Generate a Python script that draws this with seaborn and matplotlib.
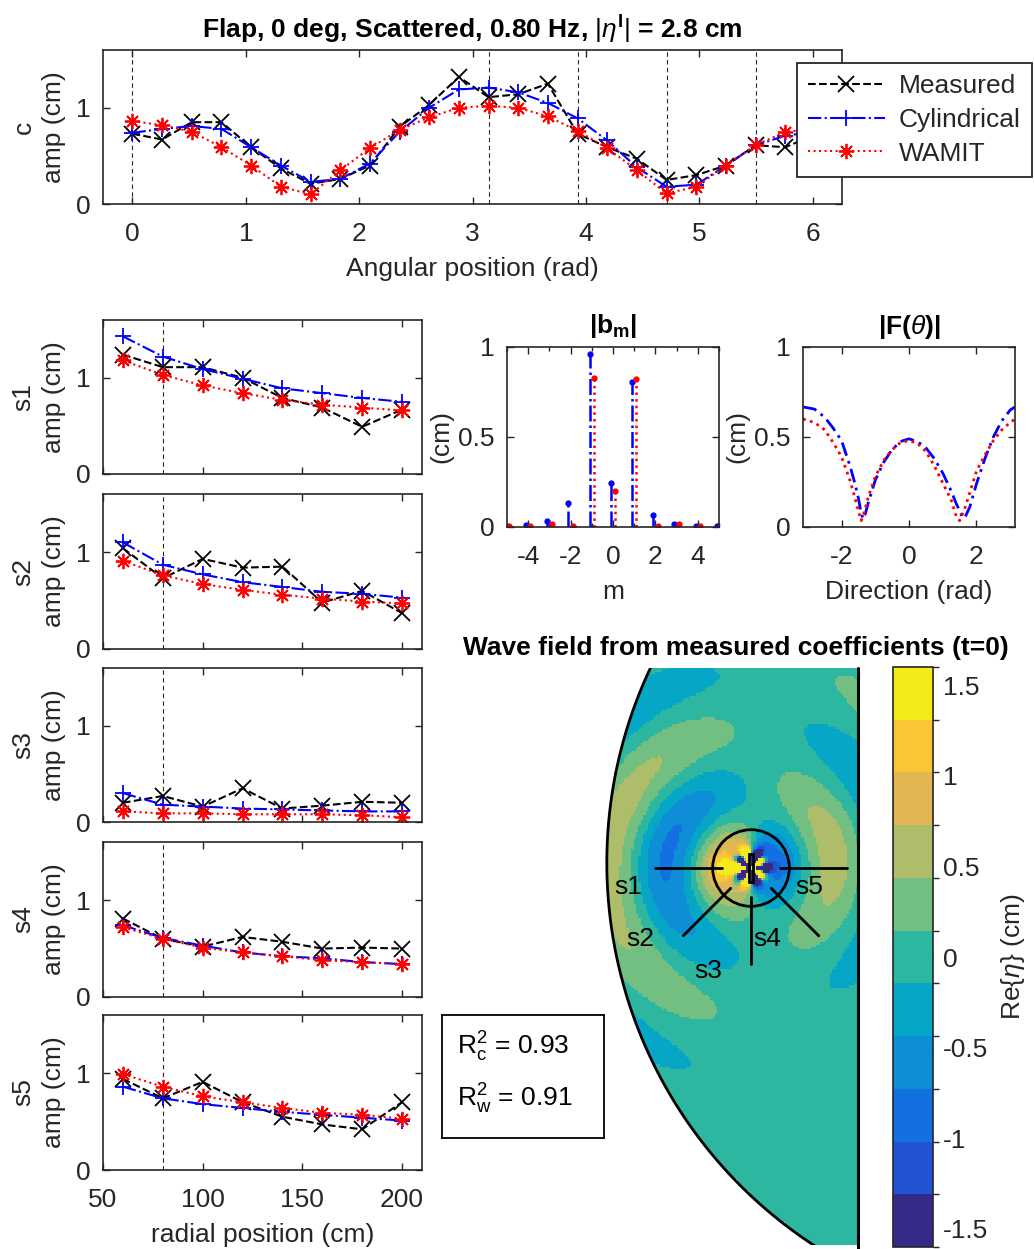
import numpy as np
import matplotlib
matplotlib.use("Agg")
import matplotlib.pyplot as plt
import seaborn as sns
from matplotlib.colors import ListedColormap, BoundaryNorm
from matplotlib.patches import Rectangle, Circle
from matplotlib.lines import Line2D

# ---------------- data ----------------
# circumferential array "c": gauge angle (deg) and amplitude (cm)
c_angle_deg = [0, 15, 30, 45, 60, 75, 90, 105, 120, 135, 150, 165,
               180, 195, 210, 225, 240, 255, 270, 285, 300, 315, 330, 345]
c_meas = [0.73, 0.67, 0.85, 0.85, 0.59, 0.37, 0.21, 0.26, 0.40, 0.80, 1.03, 1.32,
          1.11, 1.14, 1.25, 0.73, 0.59, 0.47, 0.25, 0.30, 0.40, 0.61, 0.59, 0.72]
c_cyl = [0.74, 0.78, 0.81, 0.78, 0.59, 0.40, 0.23, 0.26, 0.42, 0.75, 1.00, 1.19,
         1.21, 1.16, 1.05, 0.89, 0.66, 0.38, 0.18, 0.20, 0.40, 0.61, 0.71, 0.75]
c_wamit = [0.86, 0.82, 0.75, 0.59, 0.40, 0.18, 0.10, 0.35, 0.58, 0.77, 0.90, 1.00,
           1.02, 1.00, 0.91, 0.76, 0.58, 0.35, 0.11, 0.18, 0.40, 0.61, 0.75, 0.78]

# radial arrays s1..s5: direction (deg) and gauge radius (cm)
probe_names = ["s1", "s2", "s3", "s4", "s5"]
probe_angle_deg = [180, 225, 270, 315, 0]
radial_pos = [60, 80, 100, 120, 140, 160, 180, 200]
ring_radius = 80

s1_meas = [1.24, 1.11, 1.11, 1.00, 0.79, 0.69, 0.49, 0.67]
s1_cyl = [1.43, 1.22, 1.09, 0.99, 0.89, 0.84, 0.79, 0.75]
s1_wamit = [1.18, 1.03, 0.92, 0.84, 0.77, 0.72, 0.69, 0.66]
s2_meas = [1.04, 0.73, 0.93, 0.84, 0.85, 0.48, 0.60, 0.37]
s2_cyl = [1.10, 0.87, 0.77, 0.69, 0.64, 0.59, 0.57, 0.53]
s2_wamit = [0.91, 0.76, 0.67, 0.61, 0.56, 0.52, 0.49, 0.47]
s3_meas = [0.20, 0.27, 0.16, 0.35, 0.14, 0.17, 0.21, 0.20]
s3_cyl = [0.30, 0.18, 0.16, 0.14, 0.13, 0.12, 0.11, 0.11]
s3_wamit = [0.11, 0.09, 0.09, 0.08, 0.08, 0.08, 0.07, 0.05]
s4_meas = [0.81, 0.60, 0.52, 0.62, 0.57, 0.50, 0.51, 0.50]
s4_cyl = [0.74, 0.61, 0.53, 0.46, 0.42, 0.40, 0.36, 0.34]
s4_wamit = [0.72, 0.60, 0.51, 0.46, 0.42, 0.38, 0.36, 0.34]
s5_meas = [0.94, 0.74, 0.91, 0.70, 0.55, 0.47, 0.42, 0.70]
s5_cyl = [0.86, 0.74, 0.68, 0.64, 0.60, 0.57, 0.54, 0.51]
s5_wamit = [0.99, 0.86, 0.76, 0.70, 0.64, 0.59, 0.57, 0.53]

# scattered-wave coefficients |b_m| (cm) and the phases used for the field
bm_order = [-5, -4, -3, -2, -1, 0, 1, 2, 3, 4, 5]
bm_cyl = [0.004, 0.011, 0.033, 0.136, 0.960, 0.247, 0.805, 0.069, 0.017, 0.007, 0.004]
bm_wamit = [0.005, 0.003, 0.015, 0.005, 0.830, 0.200, 0.820, 0.005, 0.017, 0.003, 0.000]
bm_phase = [0.0, 0.0, 0.0, 0.5, 0.0, 1.0, 0.0, -0.5, 0.0, 0.0, 0.0]  # units of pi

# far-field directional amplitude |F(theta)| (cm)
F_theta = [-3.14, -2.8, -2.5, -2.25, -2.0, -1.75, -1.6, -1.5, -1.42, -1.36, -1.3, -1.2,
           -1.0, -0.75, -0.5, -0.25, 0.0, 0.25, 0.5, 0.75, 1.0, 1.25, 1.4, 1.5,
           1.58, 1.65, 1.8, 2.0, 2.25, 2.5, 2.75, 3.0, 3.14]
F_cyl = [0.667, 0.655, 0.61, 0.55, 0.48, 0.34, 0.24, 0.16, 0.08, 0.045, 0.07, 0.14,
         0.26, 0.36, 0.43, 0.475, 0.49, 0.475, 0.44, 0.38, 0.30, 0.20, 0.13, 0.09,
         0.055, 0.05, 0.11, 0.24, 0.38, 0.50, 0.59, 0.65, 0.667]
F_wamit = [0.60, 0.58, 0.54, 0.47, 0.39, 0.26, 0.16, 0.09, 0.035, 0.06, 0.10, 0.17,
           0.28, 0.37, 0.43, 0.47, 0.48, 0.465, 0.42, 0.34, 0.245, 0.15, 0.06, 0.035,
           0.07, 0.10, 0.19, 0.31, 0.40, 0.48, 0.54, 0.58, 0.60]

r2_circ = 0.93
r2_wamit = 0.91

# wave / basin parameters (cm)
wavelength = 240.0
field_phase = 2.26
basin_center = (653.0, 11.0)
basin_radius = 954.0
field_xmax = 223.4
body_width, body_length = 10.0, 60.0

# ---------------- style ----------------
sns.set_theme(style="ticks")
plt.rcParams["font.family"] = ["Liberation Sans", "DejaVu Sans"]
plt.rcParams["axes.unicode_minus"] = False
plt.rcParams["mathtext.fontset"] = "custom"
plt.rcParams["mathtext.rm"] = "Liberation Sans"
plt.rcParams["mathtext.it"] = "Liberation Sans:italic"
plt.rcParams["mathtext.bf"] = "Liberation Sans:bold"

TICK = 19
LABEL = 19
INK = "#262626"

W, H = 1035, 1249
fig = plt.figure(figsize=(W / 100, H / 100), dpi=100)


def add_px_axes(left, top, right, bottom):
    return fig.add_axes([left / W, 1 - bottom / H, (right - left) / W, (bottom - top) / H])


def style_box(ax):
    for sp in ax.spines.values():
        sp.set_visible(True)
        sp.set_color(INK)
        sp.set_linewidth(1.2)
    ax.tick_params(direction="in", length=5, width=1.0, top=True, right=True,
                   labelsize=TICK, colors=INK)
    ax.tick_params(axis="x", pad=13)
    ax.tick_params(axis="y", pad=9)
    ax.set_facecolor("white")
    ax.grid(False)


SERIES = [("Measured", "black", "--", "x"),
          ("Cylindrical", "blue", "-.", "+"),
          ("WAMIT", "red", ":", (8, 2, 0))]


def draw_series(ax, x, ys):
    for (name, col, ls, mk), y in zip(SERIES, ys):
        sns.lineplot(x=x, y=y, ax=ax, color=col, linestyle=ls, marker=mk,
                     markersize=11, markeredgecolor=col, markerfacecolor=col,
                     markeredgewidth=1.3, linewidth=1.5, legend=False)


# ---------------- circumferential array ----------------
ax_c = add_px_axes(103, 50, 842, 204)
style_box(ax_c)
for a in probe_angle_deg:
    ax_c.axvline(np.deg2rad(a), color=INK, lw=0.8, ls=(0, (4, 3)), zorder=0)
c_rad = np.deg2rad(c_angle_deg)
draw_series(ax_c, c_rad, [c_meas, c_cyl, c_wamit])
ax_c.set_xlim(-0.26, 6.26)
ax_c.set_ylim(0, 1.6)
ax_c.set_xticks([0, 1, 2, 3, 4, 5, 6])
ax_c.set_yticks([0, 1])
ax_c.set_xlabel("Angular position (rad)", fontsize=LABEL, color=INK, labelpad=8)
ax_c.set_ylabel("c\namp (cm)", fontsize=LABEL, color=INK, linespacing=1.35, labelpad=7)
ax_c.set_title(r"Flap, 0 deg, Scattered, 0.80 Hz, $|\eta^\mathbf{I}|$ = 2.8 cm",
               fontsize=LABEL, fontweight="bold", color="black", pad=8)

handles = [Line2D([], [], color=col, ls=ls, marker=mk, markersize=11, mew=1.3,
                  mec=col, mfc=col, lw=1.5) for (_, col, ls, mk) in SERIES]
leg = fig.legend(handles, [s[0] for s in SERIES], loc="upper left",
                 bbox_to_anchor=(797 / W, 1 - 63 / H), fontsize=19, frameon=True,
                 fancybox=False, edgecolor=INK, framealpha=1, handlelength=2.9,
                 borderpad=0.42, labelspacing=0.37, handletextpad=0.55, borderaxespad=0)
leg.get_frame().set_linewidth(1.3)
leg.set_zorder(10)

# ---------------- radial arrays ----------------
s_rows = [(320, 474), (494, 649), (668, 822), (842, 997), (1015, 1170)]
s_data = [[s1_meas, s1_cyl, s1_wamit], [s2_meas, s2_cyl, s2_wamit],
          [s3_meas, s3_cyl, s3_wamit], [s4_meas, s4_cyl, s4_wamit],
          [s5_meas, s5_cyl, s5_wamit]]
for i, ((top, bot), name, ys) in enumerate(zip(s_rows, probe_names, s_data)):
    ax = add_px_axes(103, top, 422, bot)
    style_box(ax)
    ax.axvline(ring_radius, color=INK, lw=0.8, ls=(0, (4, 3)), zorder=0)
    draw_series(ax, radial_pos, ys)
    ax.set_xlim(50, 210)
    ax.set_ylim(0, 1.6)
    ax.set_xticks([50, 100, 150, 200])
    ax.set_yticks([0, 1])
    ax.set_ylabel(f"{name}\namp (cm)", fontsize=LABEL, color=INK, linespacing=1.35, labelpad=7)
    if i < 4:
        ax.tick_params(labelbottom=False)
    else:
        ax.set_xlabel("radial position (cm)", fontsize=LABEL, color=INK, labelpad=8)

# ---------------- |b_m| stems ----------------
ax_b = add_px_axes(507, 347, 719, 527)
style_box(ax_b)
m_arr = np.array(bm_order, dtype=float)
for offs, vals, col, ls in [(-0.1, bm_cyl, "blue", "-."), (0.1, bm_wamit, "red", ":")]:
    st = ax_b.stem(m_arr + offs, vals, basefmt=" ")
    st.stemlines.set_color(col)
    st.stemlines.set_linestyle(ls)
    st.stemlines.set_linewidth(1.8)
    st.markerline.set_color(col)
    st.markerline.set_marker("o")
    st.markerline.set_markersize(3.5)
ax_b.set_xlim(-5, 5)
ax_b.set_ylim(0, 1)
ax_b.set_xticks([-4, -2, 0, 2, 4])
ax_b.set_xticks([-5, -3, -1, 1, 3, 5], minor=True)
ax_b.tick_params(which="minor", direction="in", length=3, top=True)
ax_b.set_yticks([0, 0.5, 1])
ax_b.set_yticklabels(["0", "0.5", "1"])
ax_b.set_xlabel("m", fontsize=LABEL, color=INK, labelpad=8)
ax_b.set_ylabel("(cm)", fontsize=LABEL, color=INK, labelpad=3)
ax_b.set_title(r"$\mathbf{|b_m|}$", fontsize=LABEL, color="black", pad=10)

# ---------------- |F(theta)| ----------------
ax_f = add_px_axes(803, 347, 1015, 527)
style_box(ax_f)
sns.lineplot(x=F_theta, y=F_cyl, ax=ax_f, color="blue", linestyle=(0, (5, 2, 1, 2)),
             linewidth=2.0, legend=False)
sns.lineplot(x=F_theta, y=F_wamit, ax=ax_f, color="red", linestyle=(0, (1, 1.6)),
             linewidth=2.0, legend=False)
ax_f.set_xlim(-np.pi, np.pi)
ax_f.set_ylim(0, 1)
ax_f.set_xticks([-2, 0, 2])
ax_f.set_yticks([0, 0.5, 1])
ax_f.set_yticklabels(["0", "0.5", "1"])
ax_f.set_xlabel("Direction (rad)", fontsize=LABEL, color=INK, labelpad=8)
ax_f.set_ylabel("(cm)", fontsize=LABEL, color=INK, labelpad=3)
ax_f.set_title(r"$\mathbf{|F(}\theta\mathbf{)|}$", fontsize=LABEL, color="black", pad=9)

# ---------------- wave field ----------------
ax_w = add_px_axes(604.9, 667.5, 858, 1245)
ax_w.set_xlim(-305, field_xmax)
ax_w.set_ylim(-787, 418.6)
ax_w.set_aspect("equal", adjustable="box")
ax_w.axis("off")


def hankel_table(n_max, x):
    """Tabulate Hankel functions H_n^(1)(x), n = 0..n_max, from Bessel integrals."""
    tau = np.linspace(0, np.pi, 801)
    t = np.linspace(0, 8.5, 3001)
    out = []
    for n in range(n_max + 1):
        jn = np.trapezoid(np.cos(n * tau[None, :] - x[:, None] * np.sin(tau)[None, :]),
                          tau, axis=1) / np.pi
        yn = np.trapezoid(np.sin(x[:, None] * np.sin(tau)[None, :] - n * tau[None, :]),
                          tau, axis=1) / np.pi
        w = (np.exp(n * t) + (-1) ** n * np.exp(-n * t))[None, :] \
            * np.exp(-x[:, None] * np.sinh(t)[None, :])
        yn -= np.trapezoid(w, t, axis=1) / np.pi
        out.append(jn + 1j * yn)
    return out


k = 2 * np.pi / wavelength
step = 5.0
xe = np.arange(-310, field_xmax + step, step)
ye = np.arange(-800, 425 + step, step)
XC, YC = np.meshgrid(0.5 * (xe[1:] + xe[:-1]), 0.5 * (ye[1:] + ye[:-1]))
KR = np.maximum(k * np.hypot(XC, YC), 0.05)
TH = np.arctan2(YC, XC)

x_tab = np.linspace(0.05, 25.0, 1500)
h_tab = hankel_table(max(abs(m) for m in bm_order), x_tab)
field = np.zeros_like(KR, dtype=complex)
for m, b, ph in zip(bm_order, bm_cyl, bm_phase):
    n = abs(m)
    h = np.interp(KR, x_tab, h_tab[n].real) + 1j * np.interp(KR, x_tab, h_tab[n].imag)
    if m < 0:
        h = h * (-1) ** n
    field += b * np.exp(1j * np.pi * ph) * (1j ** m) * h * np.exp(1j * m * TH)
eta = np.real(np.exp(1j * field_phase) * field)
eta = np.clip(eta, -1.59, 1.59)
outside = (np.hypot(XC - basin_center[0], YC - basin_center[1]) > basin_radius) | (XC > field_xmax)
eta = np.ma.masked_where(outside, eta)

parula11 = ["#352a87", "#2253d5", "#1270e0", "#0d8ed6", "#06a7c6", "#2db7a0",
            "#73bf81", "#adbd6a", "#e1b653", "#fcc536", "#f3ec1a"]
cmap = ListedColormap(parula11)
levels = np.linspace(-1.6, 1.6, 12)
norm = BoundaryNorm(levels, cmap.N)
mesh = ax_w.pcolormesh(xe, ye, eta, cmap=cmap, norm=norm, shading="flat", rasterized=True)

# basin boundary and gauge layout
phi = np.linspace(np.pi / 2, 3 * np.pi / 2, 600)
ax_w.plot(basin_center[0] + basin_radius * np.cos(phi),
          basin_center[1] + basin_radius * np.sin(phi), color="black", lw=2.0)
y_bot = basin_center[1] - np.sqrt(basin_radius ** 2 - (field_xmax - basin_center[0]) ** 2)
ax_w.plot([field_xmax, field_xmax], [y_bot, 418.6], color="black", lw=2.2, clip_on=False)
ax_w.add_patch(Circle((0, 0), ring_radius, fill=False, ec="black", lw=2.0))
ax_w.add_patch(Rectangle((-body_width / 2, -body_length / 2), body_width, body_length,
                         fill=False, ec="black", lw=2.0))
for a in probe_angle_deg:
    t = np.deg2rad(a)
    ax_w.plot([radial_pos[0] * np.cos(t), radial_pos[-1] * np.cos(t)],
              [radial_pos[0] * np.sin(t), radial_pos[-1] * np.sin(t)], color="black", lw=2.0)
label_xy = [(-257, -40), (-232, -148), (-90, -215), (33, -148), (121, -40)]
for name, (tx, ty) in zip(probe_names, label_xy):
    ax_w.text(tx, ty, name, fontsize=LABEL, ha="center", va="center", color="black")

fig.text(736 / W, 1 - 648 / H, "Wave field from measured coefficients (t=0)",
         fontsize=LABEL, fontweight="bold", ha="center", va="center", color="black")

cax = add_px_axes(893, 667, 933, 1247)
cb = fig.colorbar(mesh, cax=cax, ticks=[-1.5, -1, -0.5, 0, 0.5, 1, 1.5])
cb.ax.set_yticklabels(["-1.5", "-1", "-0.5", "0", "0.5", "1", "1.5"])
cb.ax.tick_params(direction="in", length=5, width=1.0, labelsize=TICK, colors=INK, pad=7)
cb.outline.set_edgecolor(INK)
cb.outline.set_linewidth(1.2)
cb.set_label(r"Re$\{\eta\}$ (cm)", fontsize=LABEL, color=INK, labelpad=8)

# ---------------- goodness of fit ----------------
ax_r = add_px_axes(442, 1015, 604, 1138)
ax_r.set_xticks([])
ax_r.set_yticks([])
for sp in ax_r.spines.values():
    sp.set_visible(True)
    sp.set_color("black")
    sp.set_linewidth(1.3)
ax_r.text(0.09, 0.74, r"R$^2_\mathrm{c}$ = " + f"{r2_circ:.2f}", transform=ax_r.transAxes,
          fontsize=LABEL, va="center", ha="left", color="black")
ax_r.text(0.09, 0.32, r"R$^2_\mathrm{w}$ = " + f"{r2_wamit:.2f}", transform=ax_r.transAxes,
          fontsize=LABEL, va="center", ha="left", color="black")

fig.savefig("out.png", dpi=100)
